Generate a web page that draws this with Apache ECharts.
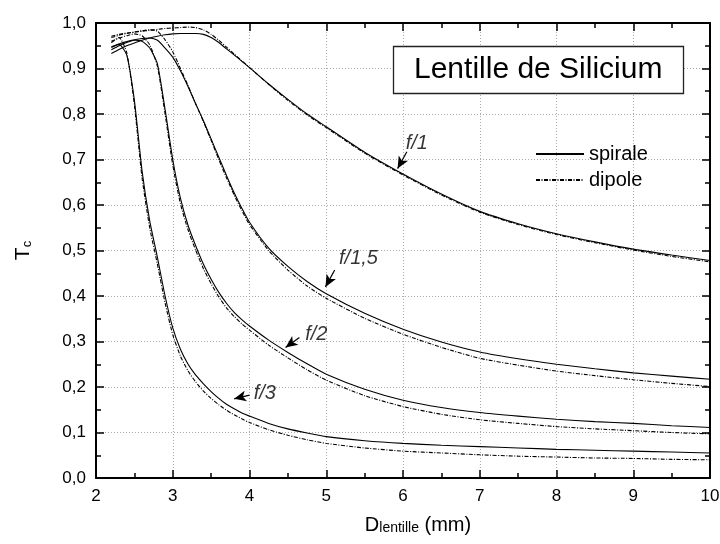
<!DOCTYPE html>
<html><head><meta charset="utf-8">
<script src="https://cdn.jsdelivr.net/npm/echarts@6/dist/echarts.min.js"></script>
<style>html,body{margin:0;padding:0;background:#fff}#c{width:720px;height:544px}</style>
</head><body><div id="c"></div>
<script>
// ---- data ----
const xValues = [2.2, 2.3, 2.4, 2.5, 2.6, 2.7, 2.8, 2.9, 3.0, 3.1, 3.2, 3.3, 3.4, 3.5, 3.6, 3.7, 3.8, 3.9, 4.0,
                 4.25, 4.5, 4.75, 5.0, 5.5, 6.0, 6.5, 7.0, 7.5, 8.0, 8.5, 9.0, 9.5, 10.0];

const spiraleF1  = [0.933, 0.942, 0.950, 0.956, 0.962, 0.967, 0.971, 0.974, 0.976, 0.977, 0.977, 0.977, 0.975, 0.968, 0.957, 0.943, 0.930, 0.916, 0.902,
                    0.866, 0.832, 0.800, 0.772, 0.716, 0.668, 0.624, 0.586, 0.559, 0.537, 0.519, 0.503, 0.490, 0.478];
const dipoleF1   = [0.971, 0.975, 0.978, 0.980, 0.982, 0.984, 0.986, 0.988, 0.989, 0.990, 0.991, 0.990, 0.985, 0.975, 0.962, 0.947, 0.932, 0.917, 0.902,
                    0.865, 0.830, 0.798, 0.770, 0.714, 0.666, 0.622, 0.584, 0.557, 0.535, 0.517, 0.501, 0.487, 0.475];
const spiraleF15 = [0.948, 0.954, 0.959, 0.963, 0.966, 0.967, 0.962, 0.945, 0.925, 0.895, 0.860, 0.822, 0.785, 0.745, 0.705, 0.665, 0.627, 0.593, 0.562,
                    0.505, 0.465, 0.432, 0.405, 0.362, 0.327, 0.299, 0.277, 0.262, 0.250, 0.240, 0.231, 0.224, 0.217];
const dipoleF15  = [0.968, 0.973, 0.977, 0.980, 0.983, 0.985, 0.982, 0.963, 0.937, 0.900, 0.862, 0.822, 0.783, 0.742, 0.700, 0.660, 0.622, 0.588, 0.557,
                    0.500, 0.457, 0.422, 0.395, 0.351, 0.316, 0.287, 0.263, 0.248, 0.235, 0.225, 0.216, 0.208, 0.201];
const spiraleF2  = [0.941, 0.950, 0.957, 0.962, 0.960, 0.945, 0.910, 0.810, 0.700, 0.615, 0.555, 0.510, 0.470, 0.437, 0.408, 0.384, 0.364, 0.348, 0.334,
                    0.303, 0.276, 0.251, 0.228, 0.195, 0.171, 0.155, 0.144, 0.136, 0.129, 0.124, 0.120, 0.115, 0.111];
const dipoleF2   = [0.960, 0.967, 0.972, 0.976, 0.972, 0.952, 0.905, 0.800, 0.688, 0.603, 0.545, 0.500, 0.460, 0.427, 0.398, 0.374, 0.355, 0.339, 0.325,
                    0.292, 0.264, 0.238, 0.215, 0.181, 0.157, 0.140, 0.128, 0.120, 0.113, 0.108, 0.104, 0.100, 0.097];
const spiraleF3  = [0.946, 0.953, 0.930, 0.830, 0.675, 0.565, 0.485, 0.400, 0.330, 0.283, 0.250, 0.226, 0.207, 0.190, 0.175, 0.162, 0.152, 0.143, 0.136,
                    0.120, 0.108, 0.099, 0.091, 0.082, 0.076, 0.072, 0.069, 0.066, 0.063, 0.061, 0.059, 0.057, 0.055];
const dipoleF3   = [0.957, 0.968, 0.935, 0.820, 0.660, 0.550, 0.470, 0.385, 0.315, 0.268, 0.235, 0.211, 0.191, 0.175, 0.161, 0.149, 0.139, 0.130, 0.122,
                    0.106, 0.094, 0.084, 0.076, 0.066, 0.059, 0.055, 0.051, 0.048, 0.046, 0.044, 0.043, 0.041, 0.040];

const legendNames = ['spirale', 'dipole'];
const titleText = 'Lentille de Silicium';
const annotations = [
  { text: 'f/1',   at: [6.18, 0.736], from: [6.05, 0.717], to: [5.93, 0.680] },
  { text: 'f/1,5', at: [5.42, 0.482], from: [5.11, 0.457], to: [4.99, 0.420] },
  { text: 'f/2',   at: [4.87, 0.315], from: [4.65, 0.309], to: [4.47, 0.287] },
  { text: 'f/3',   at: [4.20, 0.186], from: [4.00, 0.182], to: [3.80, 0.174] }
];

// ---- chart ----
const FONT = "'Liberation Sans', Arial, sans-serif";
const pairs = ys => xValues.map((x, i) => [x, ys[i]]);
const solid = { color: '#000', width: 1.1, type: 'solid' };
const dashdot = { color: '#000', width: 1.1, type: [4, 1.5, 1, 1.5] };

const curveSeries = [
  ['spirale', spiraleF1, solid], ['dipole', dipoleF1, dashdot],
  ['spirale', spiraleF15, solid], ['dipole', dipoleF15, dashdot],
  ['spirale', spiraleF2, solid], ['dipole', dipoleF2, dashdot],
  ['spirale', spiraleF3, solid], ['dipole', dipoleF3, dashdot]
].map(([name, ys, ls]) => ({
  type: 'line', name, data: pairs(ys), symbol: 'none', showSymbol: false,
  smooth: 0.2, lineStyle: ls, itemStyle: { color: '#000' },
  xAxisIndex: 0, yAxisIndex: 0, z: 3
}));

const axisCommon = {
  axisLine: { show: true, onZero: false, lineStyle: { color: '#000', width: 2 } },
  axisTick: { show: true, inside: true, length: 8, lineStyle: { color: '#000', width: 1.5 } },
  minorTick: { show: true, splitNumber: 2, length: 5, lineStyle: { color: '#000', width: 1.5 } },
  nameMoveOverlap: false
};
const gridLine = { show: true, lineStyle: { color: '#aaa', width: 1, type: [1, 2] } };

const option = {
  animation: false,
  backgroundColor: '#fff',
  textStyle: { fontFamily: FONT, color: '#000' },
  grid: { left: 96, right: 10, top: 23, bottom: 66, outerBoundsMode: 'none', containLabel: false },
  title: {
    text: titleText, left: 393, top: 46, padding: [9, 21],
    borderColor: '#222', borderWidth: 1.3, backgroundColor: '#fff',
    textStyle: { fontSize: 30, fontWeight: 'normal', color: '#000', fontFamily: FONT, lineHeight: 30 }
  },
  legend: {
    data: legendNames, orient: 'vertical', left: 530, top: 139, itemGap: 6,
    itemWidth: 48, itemHeight: 14, selectedMode: false,
    itemStyle: { opacity: 0, borderWidth: 0 },
    textStyle: { fontSize: 20, color: '#000', fontFamily: FONT }
  },
  xAxis: [
    Object.assign({
      type: 'value', min: 2, max: 10, interval: 1, position: 'bottom',
      name: '{d|D}{s|lentille}{d| (mm)}', nameLocation: 'middle', nameGap: 37,
      nameTextStyle: { padding: [0, 0, 0, 30], rich: {
        d: { fontSize: 20, lineHeight: 20, verticalAlign: 'top', fontFamily: FONT, color: '#000' },
        s: { fontSize: 14, lineHeight: 14, padding: [15, 0, 0, 0], verticalAlign: 'bottom', fontFamily: FONT, color: '#000' }
      } },
      axisLabel: { fontSize: 17, color: '#000', margin: 10, fontFamily: FONT },
      splitLine: gridLine
    }, axisCommon),
    Object.assign({
      type: 'value', min: 2, max: 10, interval: 1, position: 'top',
      axisLabel: { show: false }, splitLine: { show: false }
    }, axisCommon)
  ],
  yAxis: [
    Object.assign({
      type: 'value', min: 0, max: 1, interval: 0.1, position: 'left',
      name: '{d|T}{s|c}', nameLocation: 'middle', nameGap: 62, nameRotate: 90,
      nameTextStyle: { rich: {
        d: { fontSize: 21, lineHeight: 21, verticalAlign: 'top', fontFamily: FONT, color: '#000' },
        s: { fontSize: 13, lineHeight: 13, padding: [13, 0, 0, 0], verticalAlign: 'bottom', fontFamily: FONT, color: '#000' }
      } },
      axisLabel: { fontSize: 17, color: '#000', margin: 10, fontFamily: FONT,
                   formatter: v => v.toFixed(1).replace('.', ',') },
      splitLine: gridLine
    }, axisCommon),
    Object.assign({
      type: 'value', min: 0, max: 1, interval: 0.1, position: 'right',
      axisLabel: { show: false }, splitLine: { show: false }
    }, axisCommon)
  ],
  series: curveSeries.concat([{
    type: 'scatter', name: 'annotations', xAxisIndex: 0, yAxisIndex: 0,
    data: annotations.map(a => [a.at[0], a.at[1], a.text]),
    symbolSize: 1, itemStyle: { color: 'rgba(0,0,0,0)' }, silent: true, z: 5,
    label: { show: true, position: 'inside', formatter: p => p.data[2],
             fontSize: 20, fontStyle: 'italic', color: '#000', fontFamily: FONT },
    markLine: {
      silent: true, symbol: ['none', 'arrow'], symbolSize: [8, 12], animation: false,
      label: { show: false }, emphasis: { disabled: true },
      lineStyle: { color: '#000', width: 1.2, type: 'solid' },
      data: annotations.map(a => [{ coord: a.from }, { coord: a.to }])
    }
  }])
};

const chart = echarts.init(document.getElementById('c'));
chart.setOption(option);
</script>
</body></html>
